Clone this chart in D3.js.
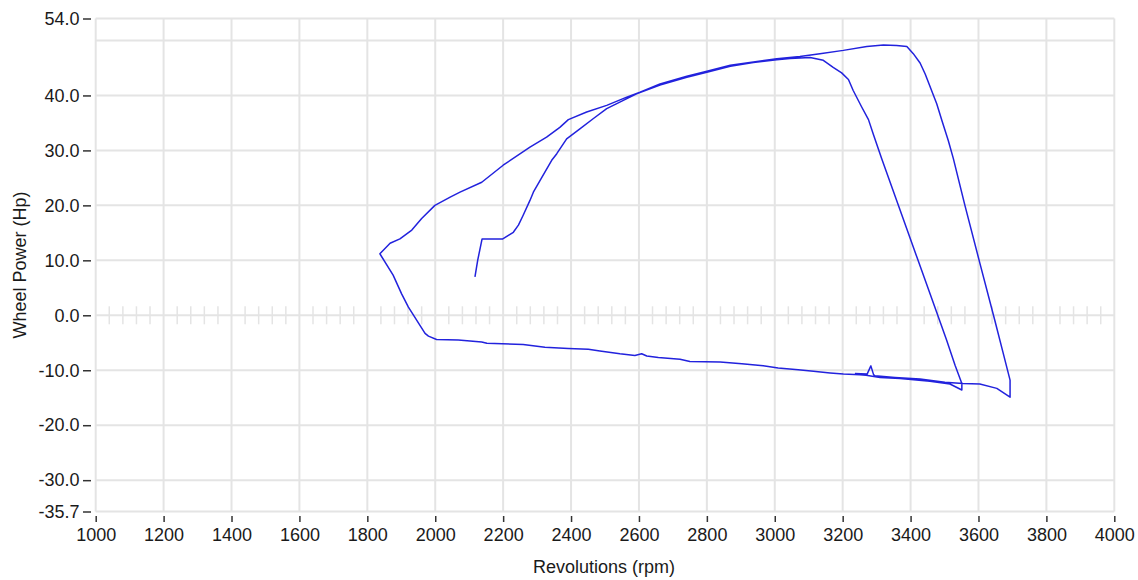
<!DOCTYPE html>
<meta charset="utf-8">
<style>

body {
  margin: 0;
  background: #fff;
}

.grid line {
  stroke: #e4e4e4;
  stroke-width: 2;
}

.minor line {
  stroke: #e4e4e4;
  stroke-width: 1.5;
}

.axis text {
  font: 18px "Liberation Sans", Arial, sans-serif;
  fill: #1a1a1a;
}

.axis line {
  stroke: #333;
  stroke-width: 1.5;
}

.label {
  font: 18px "Liberation Sans", Arial, sans-serif;
  fill: #1a1a1a;
  text-anchor: middle;
}

.run {
  fill: none;
  stroke: #2222dd;
  stroke-width: 1.5;
  stroke-linejoin: round;
}

</style>
<svg width="1138" height="580"></svg>
<script src="https://d3js.org/d3.v7.min.js"></script>
<script>

// dyno run, one continuous trace: rpm and wheel power (hp)
var rpm = [
  2117, 2125, 2138, 2199, 2230, 2245, 2259, 2279, 2289, 2314, 2343, 2358, 2387, 2426,
  2466, 2505, 2554, 2593, 2662, 2741, 2800, 2869, 2937, 3006, 3045, 3104, 3143, 3172,
  3197, 3217, 3231, 3256, 3276, 3290, 3315, 3364, 3422, 3480, 3506, 3531, 3551, 3551,
  3516, 3457, 3369, 3310, 3269, 3251, 3202, 3163, 3114, 3069, 3010, 2966, 2903, 2839,
  2750, 2721, 2657, 2623, 2608, 2588, 2544, 2485, 2451, 2392, 2323, 2259, 2152, 2137,
  2068, 2004, 1980, 1970, 1921, 1901, 1876, 1837,
  1867, 1896, 1931, 1960, 1999, 2044, 2073, 2137, 2200, 2279, 2328, 2367, 2392, 2446,
  2505, 2564, 2603, 2662, 2741, 2800, 2869, 2937, 3006, 3074, 3133, 3202, 3271, 3320,
  3359, 3389, 3408, 3428, 3443, 3477, 3492, 3511, 3526, 3560, 3604, 3648, 3672, 3693,
  3693, 3654, 3604, 3554, 3501, 3428, 3354, 3295, 3291, 3283, 3272, 3236
];

var power = [
  7.0, 10.0, 13.9, 13.9, 15.1, 16.4, 18.2, 20.9, 22.4, 25.1, 28.2, 29.4, 32.1, 33.9,
  35.8, 37.6, 39.1, 40.3, 41.9, 43.3, 44.2, 45.3, 46.0, 46.5, 46.7, 46.9, 46.4, 45.1,
  44.1, 42.9, 40.9, 37.9, 35.6, 33.0, 28.5, 20.0, 10.0, 0.0, -4.5, -9.1, -12.4, -13.6,
  -12.5, -12.0, -11.5, -11.3, -10.9, -10.8, -10.7, -10.5, -10.2, -9.9, -9.6, -9.2, -8.8, -8.5,
  -8.4, -8.0, -7.7, -7.4, -7.0, -7.3, -7.0, -6.5, -6.2, -6.05, -5.8, -5.3, -5.1, -4.85,
  -4.5, -4.4, -3.8, -3.3, 1.5, 3.9, 7.3, 11.2,
  13.1, 13.9, 15.5, 17.6, 20.0, 21.5, 22.4, 24.2, 27.3, 30.6, 32.4, 34.2, 35.6, 37.0,
  38.2, 39.7, 40.6, 42.1, 43.5, 44.4, 45.5, 46.1, 46.7, 47.1, 47.6, 48.2, 48.9, 49.2,
  49.1, 48.9, 47.6, 45.9, 43.9, 38.5, 35.5, 31.8, 28.5, 20.0, 9.5, -0.9, -6.7, -11.8,
  -14.9, -13.3, -12.5, -12.4, -12.2, -11.6, -11.3, -11.0, -10.8, -9.2, -10.7, -10.6
];

var rpmTicks = d3.range(1000, 4001, 200),
    powerTicks = [54, 40, 30, 20, 10, 0, -10, -20, -30, -35.7],
    powerGrid = [54, 50, 40, 30, 20, 10, 0, -10, -20, -30, -35.7],
    minorTicks = d3.range(1040, 4000, 40).filter(function(d) { return d % 200 !== 0; });

var svg = d3.select("svg");

var x = d3.scaleLinear()
    .domain([1000, 4000])
    .range([95.7, 1114.3]);

var y = d3.scaleLinear()
    .domain([-35.7, 54])
    .range([511.5, 18.5]);

var grid = svg.append("g")
    .attr("class", "grid");

grid.selectAll(".v")
    .data(rpmTicks)
  .enter().append("line")
    .attr("class", "v")
    .attr("x1", x).attr("x2", x)
    .attr("y1", y(54)).attr("y2", y(-35.7));

grid.selectAll(".h")
    .data(powerGrid)
  .enter().append("line")
    .attr("class", "h")
    .attr("x1", x(1000)).attr("x2", x(4000))
    .attr("y1", y).attr("y2", y);

svg.append("g")
    .attr("class", "minor")
  .selectAll("line")
    .data(minorTicks)
  .enter().append("line")
    .attr("x1", x).attr("x2", x)
    .attr("y1", y(0) - 9).attr("y2", y(0) + 9);

svg.append("g")
    .attr("class", "axis")
    .attr("transform", "translate(91,0)")
    .call(d3.axisLeft(y)
      .tickValues(powerTicks)
      .tickFormat(function(d) { return d.toFixed(1); })
      .tickSize(8)
      .tickPadding(3.5))
    .call(function(g) { g.select(".domain").remove(); });

svg.append("g")
    .attr("class", "axis")
    .attr("transform", "translate(0,516)")
    .call(d3.axisBottom(x)
      .tickValues(rpmTicks)
      .tickFormat(d3.format("d"))
      .tickSize(6)
      .tickPadding(6))
    .call(function(g) { g.select(".domain").remove(); });

svg.selectAll(".axis text").attr("font-family", null).attr("font-size", null);

var line = d3.line()
    .x(function(d) { return x(rpm[d]); })
    .y(function(d) { return y(power[d]); });

svg.append("path")
    .attr("class", "run")
    .attr("d", line(d3.range(rpm.length)));

svg.append("text")
    .attr("class", "label")
    .attr("x", 604)
    .attr("y", 573)
    .text("Revolutions (rpm)");

svg.append("text")
    .attr("class", "label")
    .attr("transform", "translate(26,265)rotate(-90)")
    .text("Wheel Power (Hp)");

</script>
